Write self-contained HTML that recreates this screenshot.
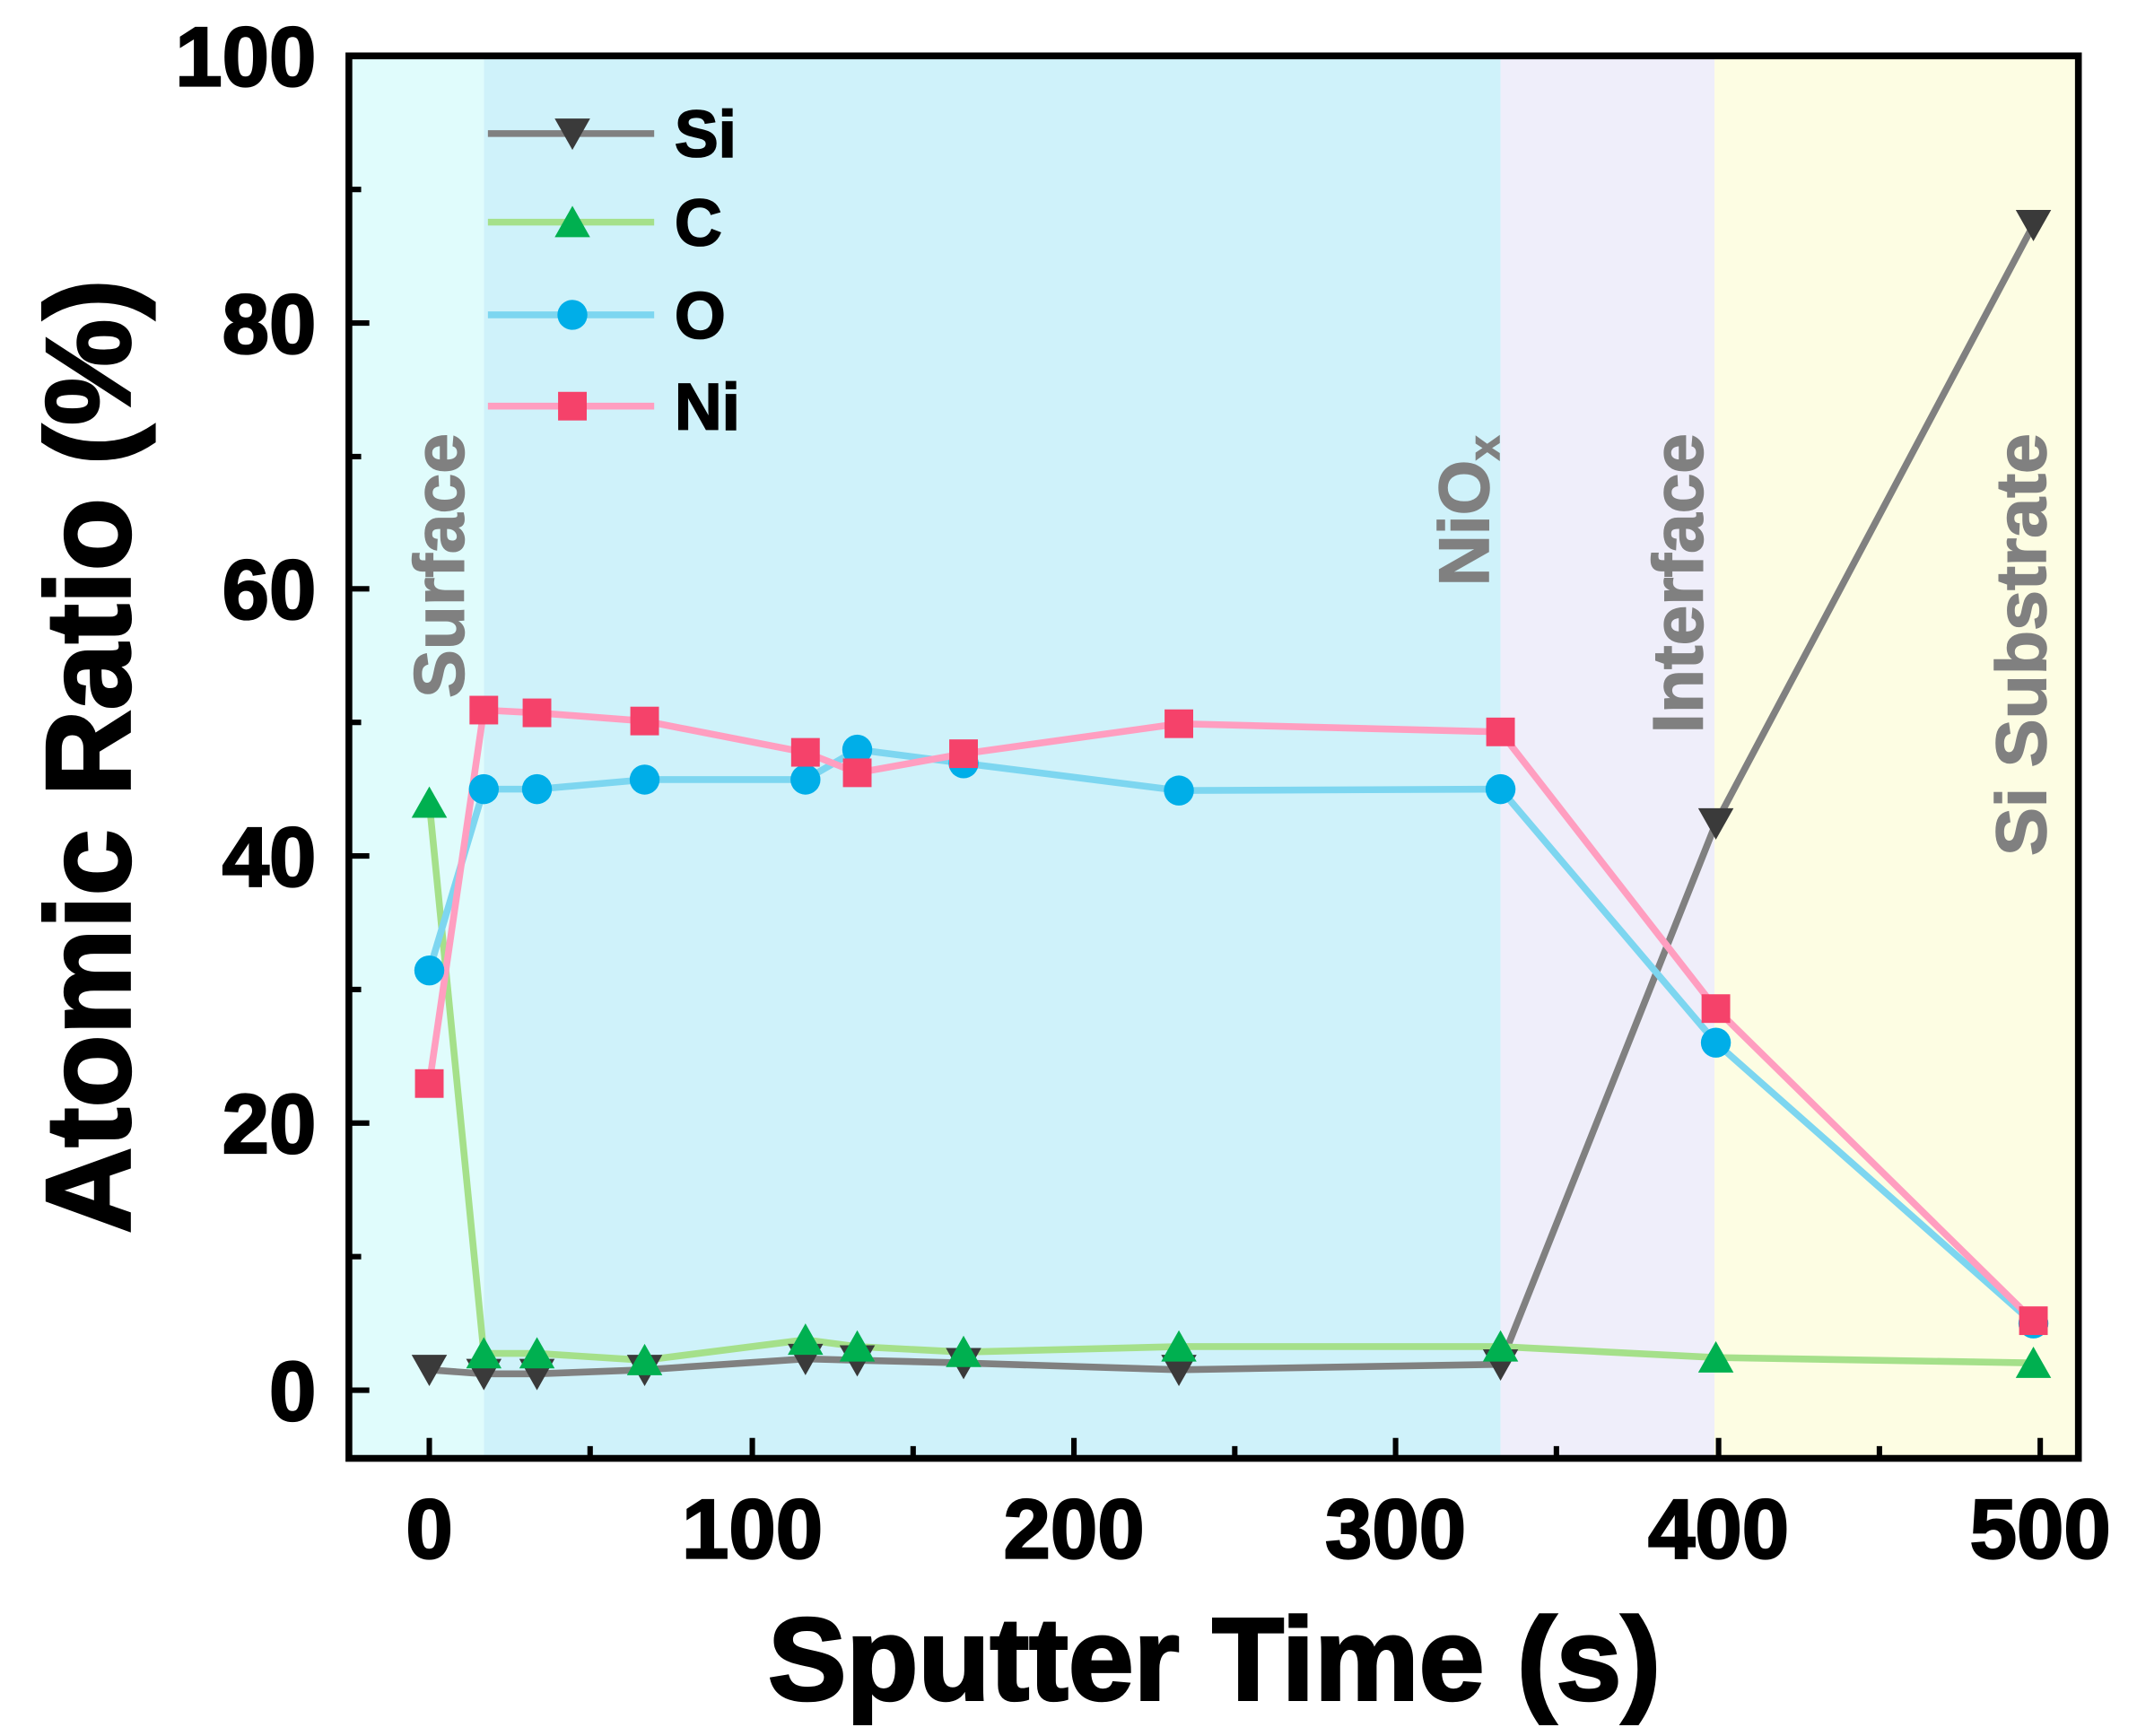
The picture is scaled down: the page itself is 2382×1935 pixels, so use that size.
<!DOCTYPE html>
<html><head><style>html,body{margin:0;padding:0;background:#fff}svg{display:block}</style></head>
<body>
<svg width="2382" height="1935" viewBox="0 0 1568 1273.7" preserveAspectRatio="none" xmlns="http://www.w3.org/2000/svg" font-family="Liberation Sans, sans-serif" font-weight="bold">
<rect x="256" y="41" width="99" height="1029" fill="#e0fcfc"/>
<rect x="355" y="41" width="746" height="1029" fill="#cff2fa"/>
<rect x="1101" y="41" width="157" height="1029" fill="#efeefa"/>
<rect x="1258" y="41" width="267" height="1029" fill="#fdfde3"/>
<g fill="#808080" stroke="#808080" stroke-width="1" font-size="52">
<text transform="translate(340,512) rotate(-90)" textLength="194" lengthAdjust="spacingAndGlyphs">Surface</text>
<text transform="translate(1092,430) rotate(-90)">NiO<tspan font-size="32" dy="8">x</tspan></text>
<text transform="translate(1249,538) rotate(-90)" textLength="220" lengthAdjust="spacingAndGlyphs">Interface</text>
<text transform="translate(1501,628) rotate(-90)" textLength="310" lengthAdjust="spacingAndGlyphs">Si Substrate</text>
</g>
<g stroke="#000" stroke-width="4">
<path d="M315 1070v-15M433 1070v-9M552 1070v-15M670 1070v-9M788 1070v-15M906 1070v-9M1024 1070v-15M1142 1070v-9M1261 1070v-15M1379 1070v-9M1497 1070v-15"/>
<path d="M256 1020h15M256 922h9M256 824h15M256 726h9M256 628h15M256 530h9M256 432h15M256 335h9M256 237h15M256 139h9M256 41h15"/>
</g>
<g font-size="62" text-anchor="end" stroke="#000" stroke-width="1.5">
<text x="232" y="1042">0</text><text x="232" y="846">20</text><text x="232" y="650">40</text><text x="232" y="454">60</text><text x="232" y="259">80</text><text x="232" y="63">100</text>
</g>
<g font-size="62" text-anchor="middle" stroke="#000" stroke-width="1.5">
<text x="315" y="1143">0</text><text x="552" y="1143">100</text><text x="788" y="1143">200</text><text x="1024" y="1143">300</text><text x="1261" y="1143">400</text><text x="1497" y="1143">500</text>
</g>
<text x="891" y="1247" font-size="86" text-anchor="middle" stroke="#000" stroke-width="2" textLength="655" lengthAdjust="spacingAndGlyphs">Sputter Time (s)</text>
<text transform="translate(95,555) rotate(-90)" font-size="88" text-anchor="middle" stroke="#000" stroke-width="2" textLength="700" lengthAdjust="spacingAndGlyphs">Atomic Ratio (%)</text>
<g fill="none" stroke-width="5" stroke-linejoin="round">
<polyline stroke="#808080" points="315,1005 355,1008 394,1008 473,1005 591,997 629,998 707,1000 865,1005 1101,1001 1259,604 1492,165"/>
<polyline stroke="#a5e08a" points="315,589 355,993 394,993 473,998 591,983 629,988 707,992 865,988 1101,988 1259,996 1492,1000"/>
<polyline stroke="#7dd6f0" points="315,712 355,579 394,579 473,572 591,572 629,550 707,560 865,580 1101,579 1259,765 1492,971"/>
<polyline stroke="#ff9ec0" points="315,795 355,521 394,523 473,529 591,552 629,567 707,553 865,531 1101,537 1259,740 1492,969"/>
</g>
<defs>
<path id="dn" d="M-13,-11 L13,-11 L0,12 Z" fill="#3a3a3a"/>
<path id="up" d="M-13,11 L13,11 L0,-12 Z" fill="#00b050"/>
<circle id="ci" r="11" fill="#00aee8"/>
<rect id="sq" x="-10.5" y="-10.5" width="21" height="21" fill="#f5426a"/>
</defs>
<g>
<use href="#dn" x="315" y="1005"/><use href="#dn" x="355" y="1008"/><use href="#dn" x="394" y="1008"/><use href="#dn" x="473" y="1005"/><use href="#dn" x="591" y="997"/><use href="#dn" x="629" y="998"/><use href="#dn" x="707" y="1000"/><use href="#dn" x="865" y="1005"/><use href="#dn" x="1101" y="1001"/><use href="#dn" x="1259" y="604"/><use href="#dn" x="1492" y="165"/>
<use href="#up" x="315" y="589"/><use href="#up" x="355" y="993"/><use href="#up" x="394" y="993"/><use href="#up" x="473" y="998"/><use href="#up" x="591" y="983"/><use href="#up" x="629" y="988"/><use href="#up" x="707" y="992"/><use href="#up" x="865" y="988"/><use href="#up" x="1101" y="988"/><use href="#up" x="1259" y="996"/><use href="#up" x="1492" y="1000"/>
<use href="#ci" x="315" y="712"/><use href="#ci" x="355" y="579"/><use href="#ci" x="394" y="579"/><use href="#ci" x="473" y="572"/><use href="#ci" x="591" y="572"/><use href="#ci" x="629" y="550"/><use href="#ci" x="707" y="560"/><use href="#ci" x="865" y="580"/><use href="#ci" x="1101" y="579"/><use href="#ci" x="1259" y="765"/><use href="#ci" x="1492" y="971"/>
<use href="#sq" x="315" y="795"/><use href="#sq" x="355" y="521"/><use href="#sq" x="394" y="523"/><use href="#sq" x="473" y="529"/><use href="#sq" x="591" y="552"/><use href="#sq" x="629" y="567"/><use href="#sq" x="707" y="553"/><use href="#sq" x="865" y="531"/><use href="#sq" x="1101" y="537"/><use href="#sq" x="1259" y="740"/><use href="#sq" x="1492" y="969"/>
</g>
<g stroke-width="5">
<line x1="358" y1="98" x2="480" y2="98" stroke="#808080"/>
<line x1="358" y1="163" x2="480" y2="163" stroke="#a5e08a"/>
<line x1="358" y1="231" x2="480" y2="231" stroke="#7dd6f0"/>
<line x1="358" y1="298" x2="480" y2="298" stroke="#ff9ec0"/>
</g>
<use href="#dn" x="420" y="98"/><use href="#up" x="420" y="163"/><use href="#ci" x="420" y="231"/><use href="#sq" x="420" y="298"/>
<g font-size="48" stroke="#000" stroke-width="1.2">
<text x="495" y="115">Si</text><text x="495" y="180">C</text><text x="495" y="248">O</text><text x="495" y="315">Ni</text>
</g>
<rect x="256" y="41" width="1269" height="1029" fill="none" stroke="#000" stroke-width="5"/>
</svg>
</body></html>
